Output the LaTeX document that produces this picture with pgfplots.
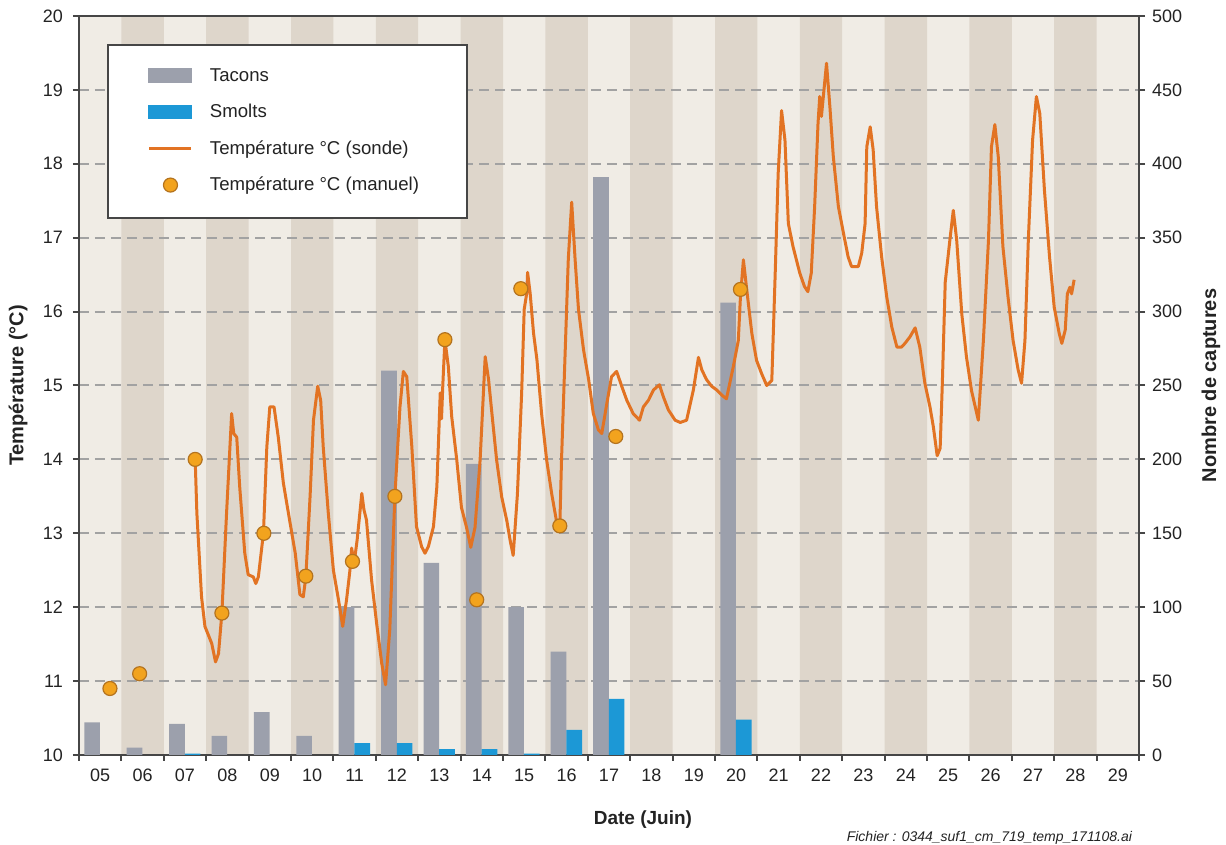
\documentclass[border=0pt]{standalone}
\usepackage{fontspec}
\setmainfont{Liberation Sans}
\usepackage{pgfplots}
\pgfplotsset{compat=1.18}
\definecolor{stripeLight}{RGB}{240,236,229}
\definecolor{stripeDark}{RGB}{222,214,203}
\definecolor{tacon}{RGB}{156,160,172}
\definecolor{smolt}{RGB}{28,152,214}
\definecolor{templine}{RGB}{226,115,35}
\definecolor{dotfill}{RGB}{242,163,30}
\definecolor{dotdraw}{RGB}{180,115,30}
\definecolor{gridgray}{RGB}{162,162,162}
\definecolor{axisgray}{RGB}{70,70,70}
\definecolor{textdark}{RGB}{35,35,35}
\pgfplotsset{
  base/.style={scale only axis, width=530pt, height=369.5pt, xmin=0, xmax=25,
    at={(0pt,0pt)}, anchor=south west},
  ticks/.style={axis line style={axisgray, line width=1pt},
    tick align=outside, major tick length=3pt,
    tick style={axisgray, line width=1pt},
    ticklabel style={font=\fontsize{9}{10}\selectfont, text=textdark},
    /pgf/number format/assume math mode=true},
}
\begin{document}
\begin{tikzpicture}
\useasboundingbox (-39.5pt,-45pt) rectangle (573.5pt,377.5pt);
% background stripes
\begin{axis}[base, ymin=0, ymax=500, hide axis]
\addplot[ybar interval, fill=stripeLight, draw=none] coordinates {(0,500) (25,500)};
\addplot[ybar interval, fill=stripeDark, draw=none] coordinates {(0,0)(1,500)(2,0)(3,500)(4,0)(5,500)(6,0)(7,500)(8,0)(9,500)(10,0)(11,500)(12,0)(13,500)(14,0)(15,500)(16,0)(17,500)(18,0)(19,500)(20,0)(21,500)(22,0)(23,500)(24,0)(25,0)};
\end{axis}
% captures
\begin{axis}[base, ticks, name=capt, ymin=0, ymax=500,
  ytick={0,50,...,500}, ytick pos=right, yticklabel pos=right,
  ymajorgrids, major grid style={gridgray, line width=1pt, dash pattern=on 5pt off 3pt},
  xtick={0,1,...,25}, xticklabels={}, xtick pos=left,
  extra x ticks={0.5,1.5,2.5,3.5,4.5,5.5,6.5,7.5,8.5,9.5,10.5,11.5,12.5,13.5,14.5,15.5,16.5,17.5,18.5,19.5,20.5,21.5,22.5,23.5,24.5},
  extra x tick labels={05,06,07,08,09,10,11,12,13,14,15,16,17,18,19,20,21,22,23,24,25,26,27,28,29},
  extra x tick style={major tick length=0pt},
  xticklabel style={yshift=-3.5pt},
  ylabel={Nombre de captures},
  ylabel style={at={([xshift=36pt]rel axis cs:1,0.5)}, anchor=center, font=\bfseries\fontsize{10}{12}\selectfont, text=textdark},
  xlabel={Date (Juin)},
  xlabel style={at={([yshift=-32.5pt]rel axis cs:0.532,0)}, anchor=center, font=\bfseries\fontsize{9.5}{11}\selectfont, text=textdark},
]
\addplot[ybar, bar width=0.37, bar shift=-0.19, fill=tacon, draw=none] coordinates {
(0.5,22)(1.5,5)(2.5,21)(3.5,13)(4.5,29)(5.5,13)(6.5,100)(7.5,260)(8.5,130)(9.5,197)(10.5,100)(11.5,70)(12.5,391)(15.5,306)};
\addplot[ybar, bar width=0.37, bar shift=0.18, fill=smolt, draw=none] coordinates {
(2.5,1)(6.5,8)(7.5,8)(8.5,4)(9.5,4)(10.5,1)(11.5,17)(12.5,38)(15.5,24)};
\end{axis}
\node[anchor=east, font=\itshape\fontsize{7}{8}\selectfont, text=textdark] at ([yshift=-41.5pt]capt.south east) {Fichier : 0344\_suf1\_cm\_719\_temp\_171108.ai};
% temperature
\begin{axis}[base, ticks, ymin=10, ymax=20, hide x axis, axis y line*=left,
  ytick={10,11,...,20}, yticklabel style={xshift=-1.5pt},
  ylabel={Température (°C)},
  ylabel style={at={([xshift=-30.5pt]rel axis cs:0,0.5)}, anchor=center, font=\bfseries\fontsize{10}{12}\selectfont, text=textdark},
  legend style={at={(0.0264,0.962)}, anchor=north west, draw=axisgray, line width=1pt,
    fill=white, inner xsep=20pt, inner ysep=11.5pt, row sep=9.7pt, column sep=8.5pt,
    font=\fontsize{9.3}{11}\selectfont, text=textdark,
    nodes={inner sep=0pt, text height=6.5pt, text depth=2pt}},
  legend cell align=left,
]
\addlegendimage{legend image code/.code={\fill[tacon] (0pt,-2.5pt) rectangle (21pt,3.8pt);}}
\addlegendentry{Tacons}
\addlegendimage{legend image code/.code={\fill[smolt] (0pt,-2.5pt) rectangle (21pt,3.8pt);}}
\addlegendentry{Smolts}
\addplot[templine, line width=1.5pt, line join=round,
  legend image code/.code={\draw[templine, line width=1.5pt] (0pt,0.6pt) -- (21pt,0.6pt);}]
coordinates {
(2.74,14.0)(2.78,13.27)(2.89,12.14)(2.97,11.74)(3.13,11.51)(3.22,11.26)(3.29,11.37)(3.37,11.92)(3.48,13.27)(3.56,14.17)(3.6,14.62)(3.65,14.35)(3.72,14.3)(3.79,13.63)(3.91,12.73)(3.99,12.44)(4.11,12.41)(4.17,12.32)(4.23,12.41)(4.35,13.0)(4.43,14.17)(4.5,14.71)(4.6,14.71)(4.7,14.3)(4.82,13.68)(4.94,13.27)(5.1,12.73)(5.21,12.17)(5.29,12.14)(5.35,12.41)(5.45,13.5)(5.53,14.53)(5.63,14.99)(5.7,14.8)(5.76,14.17)(5.88,13.27)(6.0,12.5)(6.12,12.1)(6.22,11.74)(6.31,12.1)(6.39,12.5)(6.43,12.8)(6.49,12.6)(6.56,12.91)(6.67,13.54)(6.72,13.32)(6.78,13.18)(6.9,12.37)(7.02,11.78)(7.14,11.24)(7.23,10.95)(7.33,11.7)(7.45,13.5)(7.57,14.71)(7.65,15.19)(7.73,15.12)(7.85,14.17)(7.96,13.09)(8.08,12.82)(8.16,12.73)(8.24,12.82)(8.36,13.09)(8.44,13.63)(8.52,14.9)(8.55,14.55)(8.58,15.0)(8.63,15.62)(8.71,15.26)(8.79,14.58)(8.91,13.99)(9.02,13.35)(9.14,13.08)(9.24,12.81)(9.34,13.08)(9.46,13.99)(9.58,15.39)(9.66,15.08)(9.73,14.67)(9.85,13.99)(9.97,13.49)(10.09,13.17)(10.17,12.9)(10.24,12.7)(10.34,13.53)(10.44,14.9)(10.5,16.03)(10.56,16.25)(10.58,16.53)(10.64,16.25)(10.72,15.71)(10.8,15.35)(10.91,14.62)(11.03,13.99)(11.15,13.53)(11.26,13.17)(11.34,13.1)(11.38,13.99)(11.46,15.35)(11.54,16.71)(11.62,17.48)(11.7,16.71)(11.78,16.03)(11.9,15.48)(12.02,15.08)(12.13,14.62)(12.25,14.4)(12.33,14.35)(12.45,14.76)(12.56,15.12)(12.68,15.19)(12.8,14.99)(12.92,14.8)(13.07,14.62)(13.22,14.53)(13.31,14.71)(13.43,14.8)(13.55,14.94)(13.69,15.01)(13.78,14.85)(13.9,14.67)(14.06,14.53)(14.18,14.5)(14.33,14.53)(14.49,14.94)(14.61,15.38)(14.69,15.21)(14.8,15.08)(14.92,14.99)(15.04,14.94)(15.16,14.87)(15.27,14.82)(15.43,15.25)(15.55,15.61)(15.6,16.2)(15.67,16.7)(15.75,16.29)(15.87,15.7)(15.98,15.34)(16.1,15.16)(16.22,15.0)(16.34,15.07)(16.42,16.52)(16.49,17.87)(16.57,18.72)(16.65,18.32)(16.73,17.19)(16.84,16.88)(17.0,16.52)(17.11,16.34)(17.19,16.27)(17.27,16.52)(17.35,17.42)(17.43,18.55)(17.47,18.91)(17.51,18.64)(17.57,19.0)(17.63,19.36)(17.71,18.77)(17.79,18.1)(17.91,17.42)(18.03,17.06)(18.14,16.74)(18.22,16.61)(18.38,16.61)(18.46,16.79)(18.54,17.19)(18.58,18.23)(18.66,18.5)(18.73,18.19)(18.81,17.42)(18.93,16.74)(19.05,16.2)(19.17,15.79)(19.29,15.52)(19.4,15.52)(19.48,15.57)(19.6,15.66)(19.72,15.78)(19.83,15.52)(19.95,15.03)(20.07,14.71)(20.15,14.44)(20.24,14.05)(20.31,14.15)(20.36,15.0)(20.43,16.4)(20.54,16.97)(20.62,17.37)(20.7,16.97)(20.82,15.97)(20.93,15.39)(21.05,14.93)(21.21,14.53)(21.33,15.61)(21.45,16.97)(21.52,18.23)(21.6,18.53)(21.68,18.1)(21.79,16.88)(21.91,16.2)(22.03,15.61)(22.15,15.21)(22.23,15.03)(22.31,15.61)(22.39,16.97)(22.49,18.32)(22.58,18.91)(22.66,18.68)(22.77,17.64)(22.89,16.74)(23.0,16.06)(23.12,15.7)(23.18,15.57)(23.26,15.75)(23.31,16.24)(23.37,16.33)(23.41,16.24)(23.47,16.43)};
\addlegendentry{Température °C (sonde)}
\addplot[only marks, mark=*, mark size=3.5pt, mark options={fill=dotfill, draw=dotdraw, line width=0.6pt},
  legend image code/.code={\filldraw[fill=dotfill, draw=dotdraw, line width=0.6pt] (10.5pt,0.6pt) circle (3.5pt);}]
coordinates {(0.73,10.9)(1.43,11.1)(2.74,14.0)(3.37,11.92)(4.36,13.0)(5.35,12.42)(6.45,12.62)(7.45,13.5)(8.63,15.62)(9.38,12.1)(10.42,16.31)(11.34,13.1)(12.66,14.31)(15.6,16.3)};
\addlegendentry{Température °C (manuel)\hspace*{4pt}}
\end{axis}
\end{tikzpicture}
\end{document}
